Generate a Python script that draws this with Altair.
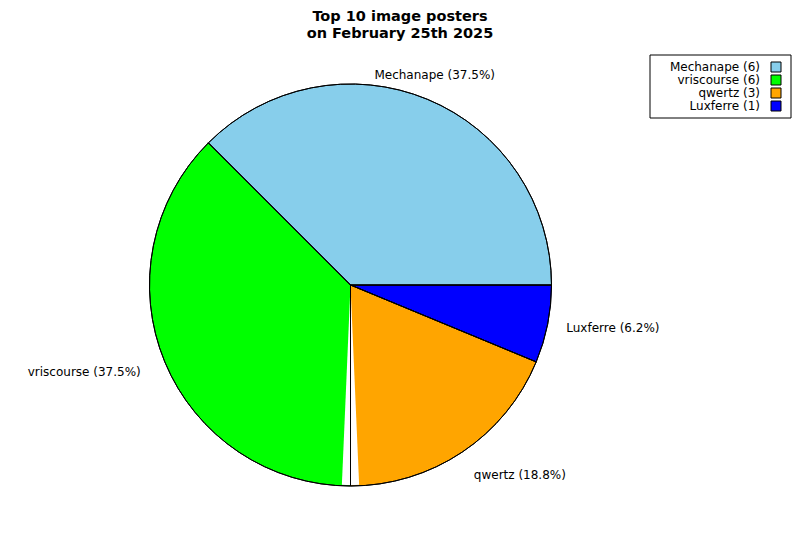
import math
import altair as alt
import pandas as pd

# Data (clockwise order starting at 3 o'clock)
names = ["Luxferre", "qwertz", "vriscourse", "Mechanape"]
counts = [1, 3, 6, 6]
colors = ["#0000FF", "#FFA500", "#00FF00", "#87CEEB"]
legend_order = ["Mechanape", "vriscourse", "qwertz", "Luxferre"]
title_lines = ["Top 10 image posters", "on February 25th 2025"]

total = sum(counts)
df = pd.DataFrame({
    "name": names,
    "count": counts,
    "ord": list(range(len(names))),
})
df["pct_label"] = [f"{n} ({c / total * 100:.1f}%)" for n, c in zip(names, counts)]
df["legend_label"] = [f"{n} ({c})" for n, c in zip(names, counts)]

FONT = "DejaVu Sans"
CX, CY = 342.5, 237
R = 201

theta_scale = alt.Scale(range=[math.pi / 2, math.pi / 2 + 2 * math.pi], domain=[0, total])
color_scale = alt.Scale(domain=names, range=colors)

base = alt.Chart(df)

slices = base.mark_arc(radius=R, stroke="black", strokeWidth=1).encode(
    theta=alt.Theta("count:Q", stack=True, scale=theta_scale),
    order=alt.Order("ord:Q"),
    color=alt.Color("name:N", scale=color_scale, legend=None),
    x=alt.value(CX),
    y=alt.value(CY),
)

# white rendering gap at the vriscourse / qwertz boundary (as in the original)
gap = base.transform_window(
    cum="sum(count)", sort=[alt.SortField("ord")]
).transform_filter(
    alt.datum.name == "qwertz"
).transform_calculate(
    g0="datum.cum - 0.11", g1="datum.cum + 0.11"
).mark_arc(radius=R - 1, fill="white", strokeWidth=0).encode(
    theta=alt.Theta("g0:Q", scale=theta_scale),
    theta2="g1:Q",
    x=alt.value(CX),
    y=alt.value(CY),
)

outlines = base.mark_arc(radius=R, filled=False, stroke="black", strokeWidth=1).encode(
    theta=alt.Theta("count:Q", stack=True, scale=theta_scale),
    order=alt.Order("ord:Q"),
    x=alt.value(CX),
    y=alt.value(CY),
)

label_style = {
    "Mechanape": dict(align="center", baseline="bottom", radius=220),
    "vriscourse": dict(align="right", baseline="middle", radius=227),
    "qwertz": dict(align="left", baseline="top", radius=222),
    "Luxferre": dict(align="left", baseline="middle", radius=220),
}

label_layers = []
for n, st in label_style.items():
    label_layers.append(
        base.mark_text(
            font=FONT, fontSize=12, color="black",
            align=st["align"], baseline=st["baseline"],
        ).encode(
            theta=alt.Theta("count:Q", stack=True, scale=theta_scale),
            order=alt.Order("ord:Q"),
            radius=alt.value(st["radius"]),
            text=alt.condition(alt.datum.name == n, "pct_label:N", alt.value("")),
            x=alt.value(CX),
            y=alt.value(CY),
        )
    )

legend_box = alt.Chart(pd.DataFrame({"k": [0]})).mark_rect(
    fill="white", stroke="black", strokeWidth=1
).encode(
    x=alt.value(642), x2=alt.value(783), y=alt.value(7), y2=alt.value(70)
)

legend_y = alt.Y(
    "name:N", axis=None,
    scale=alt.Scale(type="point", domain=legend_order, range=[19, 58], padding=0),
)

legend_text = base.mark_text(
    font=FONT, fontSize=12, align="right", baseline="middle", color="black"
).encode(
    y=legend_y,
    x=alt.value(752),
    text="legend_label:N",
)

legend_sq = base.mark_square(
    size=100, opacity=1, stroke="black", strokeWidth=1
).encode(
    y=legend_y,
    x=alt.value(768),
    color=alt.Color("name:N", scale=color_scale, legend=None),
)

chart = alt.layer(
    legend_box, slices, gap, outlines, *label_layers, legend_text, legend_sq
).properties(
    width=784,
    height=484,
    padding={"left": 0, "right": 0, "top": 40, "bottom": 0},
    autosize=alt.AutoSizeParams(type="none"),
    background="white",
    title=alt.TitleParams(
        text=title_lines, font=FONT, fontSize=14.5, fontWeight="bold",
        anchor="middle", lineHeight=17, color="black", offset=7,
    ),
).configure_view(stroke=None)

chart.save("out.html", embed_options={"renderer": "svg", "actions": False})
